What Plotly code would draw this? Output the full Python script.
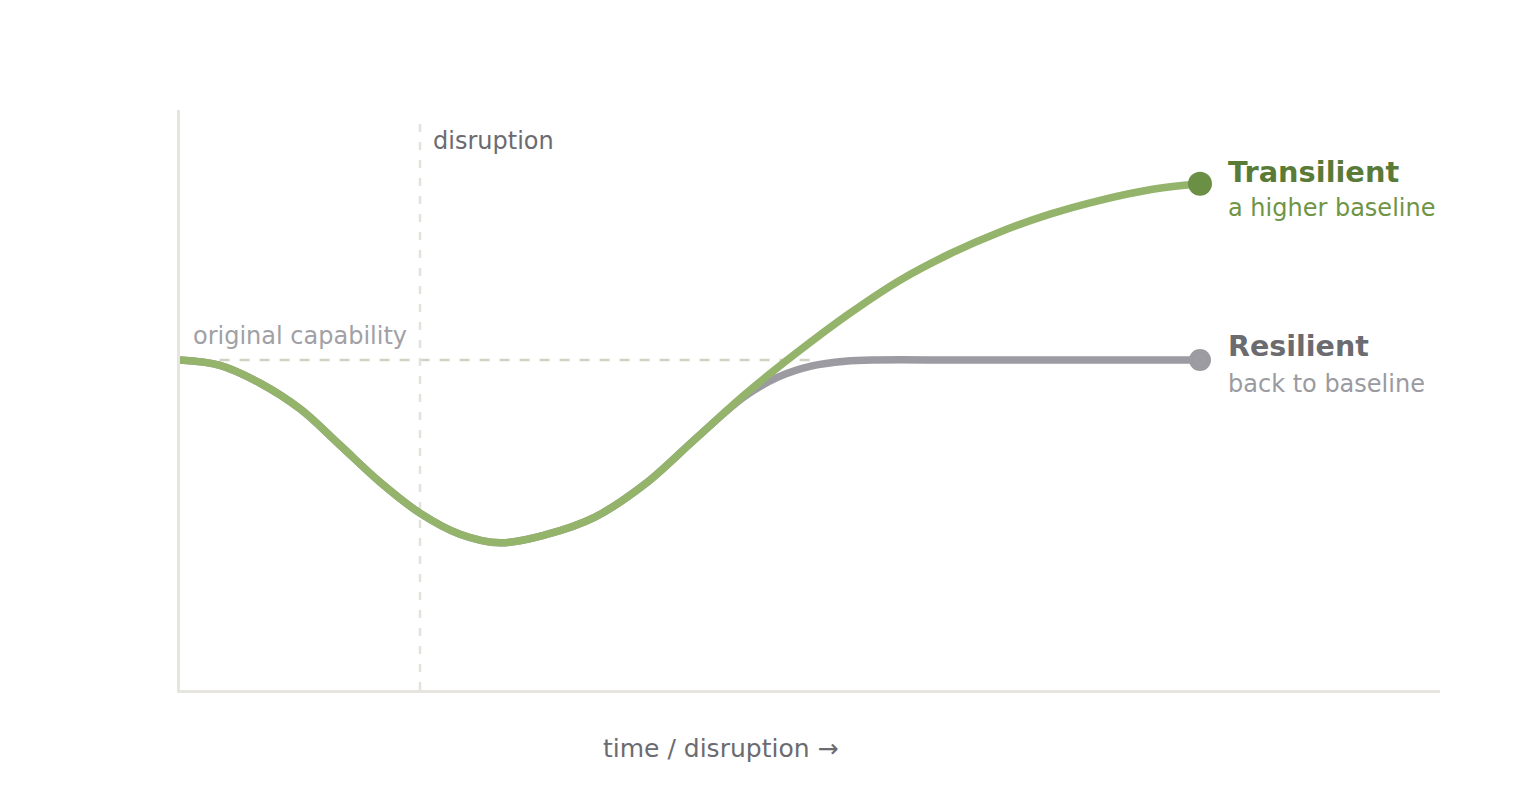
import plotly.graph_objs as go

# Capability over time (baseline = 50)
transilient_t = [0, 0.333, 0.667, 1.0, 1.333, 1.667, 2.0, 2.333, 2.667, 3.042, 3.458, 3.875,
                 4.292, 4.708, 5.125, 5.583, 6.0, 6.417, 6.833, 7.25, 7.667, 8.083, 8.5]
transilient_v = [50.0, 49.2, 46.5, 42.6, 37.1, 31.5, 26.8, 23.6, 22.3, 23.5, 26.2, 31.2,
                 38.0, 44.8, 50.9, 57.1, 62.1, 66.1, 69.4, 72.1, 74.2, 75.8, 76.7]

resilient_t = [0, 0.333, 0.667, 1.0, 1.333, 1.667, 2.0, 2.333, 2.667, 3.042, 3.458, 3.875,
               4.292, 4.708, 4.983, 5.267, 5.542, 5.79, 6.5, 7.5, 8.5]
resilient_v = [50.0, 49.2, 46.5, 42.6, 37.1, 31.5, 26.8, 23.6, 22.3, 23.5, 26.2, 31.2,
               38.0, 44.5, 47.4, 49.1, 49.8, 50.0, 50.0, 50.0, 50.0]

baseline_t = [0.33, 5.33]
baseline_v = [50, 50]
disruption_t = 2.0

green_line = "#94b36b"
green_dot = "#6b8f45"
grey_line = "#9b9ba1"

fig = go.Figure()

# original capability reference
fig.add_trace(go.Scatter(
    x=baseline_t, y=baseline_v, mode="lines",
    line=dict(color="#d0d2c3", width=2.5, dash="10px,10px"),
    hoverinfo="skip"
))

# disruption marker line
fig.add_trace(go.Scatter(
    x=[disruption_t, disruption_t], y=[0, 86.4], mode="lines",
    line=dict(color="#e3e3dd", width=2.5, dash="8px,10px"),
    hoverinfo="skip"
))

fig.add_trace(go.Scatter(
    x=resilient_t, y=resilient_v, mode="lines",
    line=dict(color=grey_line, width=7.5, shape="spline", smoothing=1),
    name="Resilient"
))
fig.add_trace(go.Scatter(
    x=transilient_t, y=transilient_v, mode="lines",
    line=dict(color=green_line, width=7.5, shape="spline", smoothing=1),
    name="Transilient"
))

# end points
fig.add_trace(go.Scatter(
    x=[resilient_t[-1]], y=[resilient_v[-1]], mode="markers",
    marker=dict(color=grey_line, size=22), hoverinfo="skip"
))
fig.add_trace(go.Scatter(
    x=[transilient_t[-1]], y=[transilient_v[-1]], mode="markers",
    marker=dict(color=green_dot, size=24), hoverinfo="skip"
))

font = "DejaVu Sans, sans-serif"
labels = [
    (2.09, 83.2, "disruption", 24, "#6b6b70"),
    (0.09, 53.6, "original capability", 24, "#a0a0a5"),
    (8.72, 78.5, "<b>Transilient</b>", 28.8, "#5a7b38"),
    (8.72, 73.0, "a higher baseline", 24, "#6f9446"),
    (8.72, 52.0, "<b>Resilient</b>", 28.5, "#6b6b70"),
    (8.72, 46.4, "back to baseline", 24, "#9a9aa0"),
]
for x, y, txt, size, color in labels:
    fig.add_annotation(
        x=x, y=y, text=txt, showarrow=False, xanchor="left", yanchor="middle",
        font=dict(family=font, size=size, color=color)
    )

fig.add_annotation(
    x=4.5, y=-0.1, yref="paper", text="time / disruption →", showarrow=False,
    xanchor="center", yanchor="middle",
    font=dict(family=font, size=25, color="#6b6b70")
)

fig.update_layout(
    width=1520, height=800,
    margin=dict(l=172, r=88, t=102, b=118),
    plot_bgcolor="white", paper_bgcolor="white",
    showlegend=False,
    xaxis=dict(range=[0, 10.5], showgrid=False, zeroline=False, showticklabels=False,
               ticks="", showline=True, linecolor="#e6e6de", linewidth=3),
    yaxis=dict(range=[0, 87.88], showgrid=False, zeroline=False, showticklabels=False,
               ticks="", showline=True, linecolor="#e6e6de", linewidth=3),
)

fig.write_html("out.html")
